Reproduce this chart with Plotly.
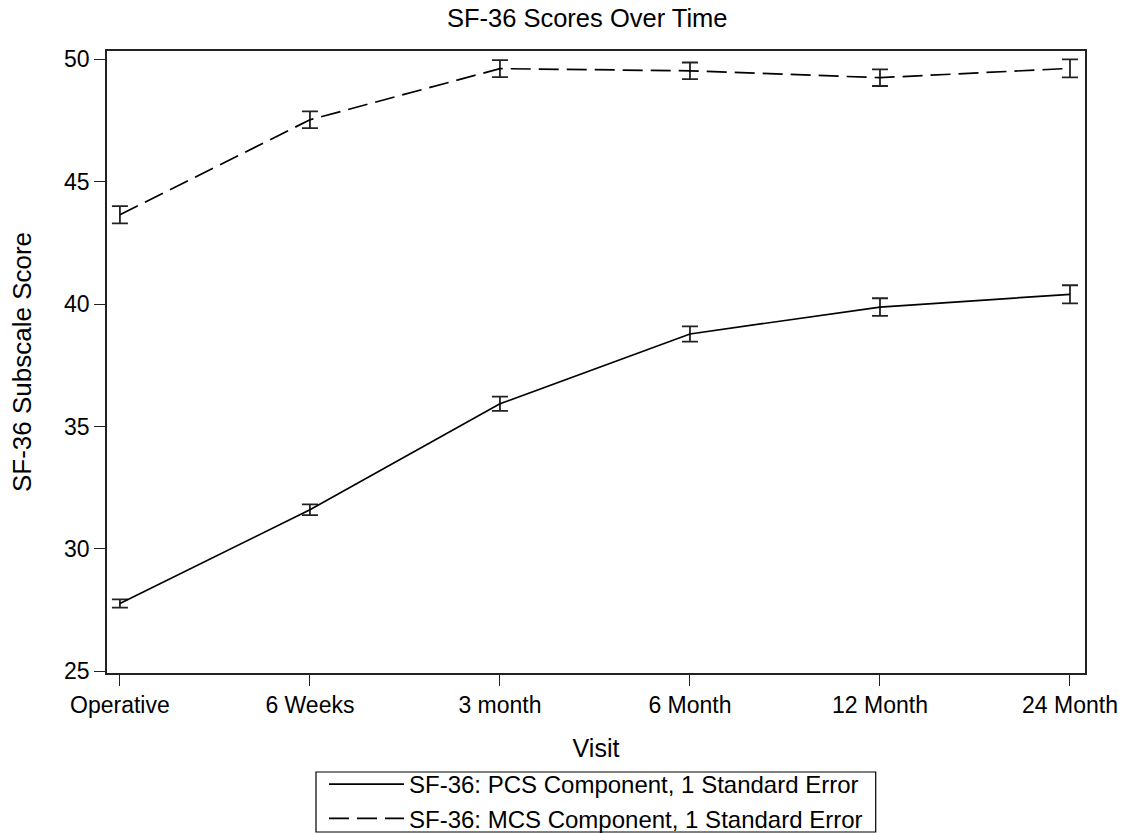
import plotly.graph_objects as go

visits = ["Operative", "6 Weeks", "3 month", "6 Month", "12 Month", "24 Month"]
pcs_mean = [27.77, 31.60, 35.93, 38.78, 39.88, 40.40]
pcs_se = [0.17, 0.22, 0.29, 0.31, 0.36, 0.37]
mcs_mean = [43.65, 47.53, 49.62, 49.53, 49.25, 49.63]
mcs_se = [0.35, 0.34, 0.35, 0.34, 0.34, 0.37]
y_ticks = [25, 30, 35, 40, 45, 50]

FONT = "Liberation Sans, Arial, sans-serif"
INK = "#222222"
xpos = list(range(len(visits)))

fig = go.Figure()
fig.add_trace(go.Scatter(
    x=xpos, y=pcs_mean, mode="lines",
    name="SF-36: PCS Component, 1 Standard Error",
    line=dict(color="black", width=1.7),
    error_y=dict(type="data", array=pcs_se, visible=True, color=INK, thickness=1.8, width=8),
))
fig.add_trace(go.Scatter(
    x=xpos, y=mcs_mean, mode="lines",
    name="SF-36: MCS Component, 1 Standard Error",
    line=dict(color="black", width=1.7, dash="20px,8px"),
    error_y=dict(type="data", array=mcs_se, visible=True, color=INK, thickness=1.8, width=8),
))

# legend frame (drawn as a shape so the box can be as compact as the reference)
fig.add_shape(type="rect", xref="paper", yref="paper",
              x0=0.2137, x1=0.786, y0=-0.2556, y1=-0.1592,
              line=dict(color="black", width=1.2), fillcolor="rgba(0,0,0,0)", layer="above")

fig.update_layout(
    width=1132, height=833,
    margin=dict(l=107, r=47, t=51, b=160, autoexpand=False),
    paper_bgcolor="white", plot_bgcolor="white",
    font=dict(family=FONT, color="black"),
    title=dict(text="SF-36 Scores Over Time", x=0.491, xref="paper", xanchor="center",
               y=0.978, yref="container", yanchor="middle", font=dict(size=25.5, color="black")),
    showlegend=True,
    legend=dict(orientation="v", x=0.5, xanchor="center", xref="paper",
                y=(833 - 762) / 833, yanchor="top", yref="container",
                bgcolor="rgba(0,0,0,0)", borderwidth=0,
                font=dict(size=24, color="black"), itemwidth=75,
                tracegroupgap=0),
)
fig.update_xaxes(
    range=[-0.068, 5.079], tickmode="array", tickvals=xpos, ticktext=visits,
    showgrid=False, zeroline=False, showline=True, linecolor=INK, linewidth=1.7, mirror=True,
    ticks="outside", ticklen=11, tickwidth=1.4, tickcolor=INK,
    tickfont=dict(size=23, color="black"),
    title=dict(text="Visit", font=dict(size=25, color="black"), standoff=22),
)
fig.update_yaxes(
    range=[24.93, 50.34], tickmode="array", tickvals=y_ticks,
    showgrid=False, zeroline=False, showline=True, linecolor=INK, linewidth=1.7, mirror=True,
    ticks="outside", ticklen=11, tickwidth=1.4, tickcolor=INK,
    tickfont=dict(size=23, color="black"),
    title=dict(text="SF-36 Subscale Score", font=dict(size=26, color="black"), standoff=25),
)

fig.write_html("out.html")
